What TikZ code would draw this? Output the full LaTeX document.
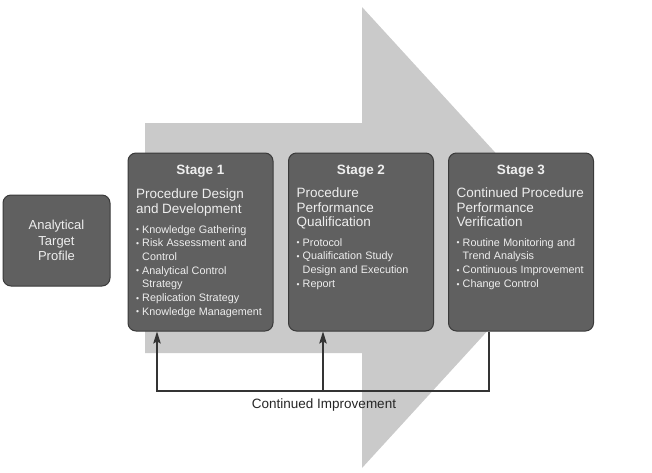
\documentclass[tikz,border=0pt]{standalone}
\usepackage{fontspec}
\setmainfont{Liberation Sans}
\usepackage{xcolor}
\usepackage{tikz}
\usetikzlibrary{arrows.meta,calc}

\definecolor{boxfill}{RGB}{96,96,96}
\definecolor{boxline}{RGB}{58,58,58}
\definecolor{bigarrow}{RGB}{202,202,202}
\definecolor{textlight}{RGB}{238,238,238}
\definecolor{linedark}{RGB}{52,52,52}

\tikzset{
  stagebox/.style = {draw = boxline, fill = boxfill, line width = 1pt,
    rounded corners = 8pt, minimum width = 145pt, minimum height = 178pt,
    inner sep = 0pt},
  atpbox/.style = {stagebox, minimum width = 107pt, minimum height = 91pt,
    text = textlight, align = center,
    font = \fontsize{13}{15.3}\selectfont},
  stagehead/.style = {text = textlight, inner sep = 0pt, anchor = base,
    font = \fontsize{13.5}{16}\selectfont\bfseries},
  stagebody/.style = {text = textlight, inner sep = 0pt, text width = 137pt,
    align = left, anchor = base west},
  loopline/.style = {draw = linedark, line width = 1.1pt},
  looptip/.style = {loopline, -{Stealth[length = 12pt, width = 7.5pt, inset = 2pt]}}
}

\newcommand{\subtitle}[1]{{\fontsize{13.5}{14.5}\selectfont #1\par}\vspace{6pt}}
\newcommand{\bul}[1]{{\fontsize{10.8}{13.7}\selectfont
  \hangindent=6pt\hangafter=1\noindent
  \makebox[6pt][l]{\raisebox{.3pt}{\fontsize{8.5}{8.5}\selectfont\textbullet}}#1\par}}

\begin{document}
\begin{tikzpicture}[x = 1pt, y = -1pt]

\useasboundingbox (0,0) rectangle (652,472);

% the big grey arrow behind the stages
\fill[bigarrow] (145,123) -- (362,123) -- (362,7) -- (573,237.5)
  -- (362,468) -- (362,353) -- (145,353) -- cycle;

\node[stagebox] (stage1) at (200.5,242) {};
\node[stagebox, right of = stage1, node distance = 160.5pt] (stage2) {};
\node[stagebox, right of = stage2, node distance = 160pt] (stage3) {};

\node[atpbox, left of = stage1, node distance = 144pt, yshift = 1.5pt] (atp)
  {Analytical\\Target\\Profile};

% stage texts
\node[stagehead] (head1) at ([yshift = -22pt]stage1.north) {Stage 1};
\node[stagehead] (head2) at ([yshift = -22pt]stage2.north) {Stage 2};
\node[stagehead] (head3) at ([yshift = -22pt]stage3.north) {Stage 3};

\node[stagebody] (body1) at ([xshift = 8.5pt, yshift = -46.3pt]stage1.north west)
{\subtitle{Procedure Design\newline and Development}
 \bul{Knowledge Gathering}
 \bul{Risk Assessment and\newline Control}
 \bul{Analytical Control\newline Strategy}
 \bul{Replication Strategy}
 \bul{Knowledge Management}};

\node[stagebody] (body2) at ([xshift = 8.5pt, yshift = -45pt]stage2.north west)
{\subtitle{Procedure\newline Performance\newline Qualification}
 \bul{Protocol}
 \bul{Qualification Study\newline Design and Execution}
 \bul{Report}};

\node[stagebody] (body3) at ([xshift = 8.5pt, yshift = -45pt]stage3.north west)
{\subtitle{Continued Procedure\newline Performance\newline Verification}
 \bul{Routine Monitoring and\newline Trend Analysis}
 \bul{Continuous Improvement}
 \bul{Change Control}};

% feedback loop
\coordinate (loopL) at (157,391);
\coordinate (loopM) at (323,391);
\coordinate (loopR) at (489,391);

\draw[looptip] (stage3.south -| loopR) -- (loopR) -- (loopL) -- (loopL |- stage1.south);
\draw[looptip] (loopM) -- (loopM |- stage2.south);

\node[font = \fontsize{13.5}{16}\selectfont, text = black!85] (loopname) at (324,405)
  {Continued Improvement};

\end{tikzpicture}
\end{document}
